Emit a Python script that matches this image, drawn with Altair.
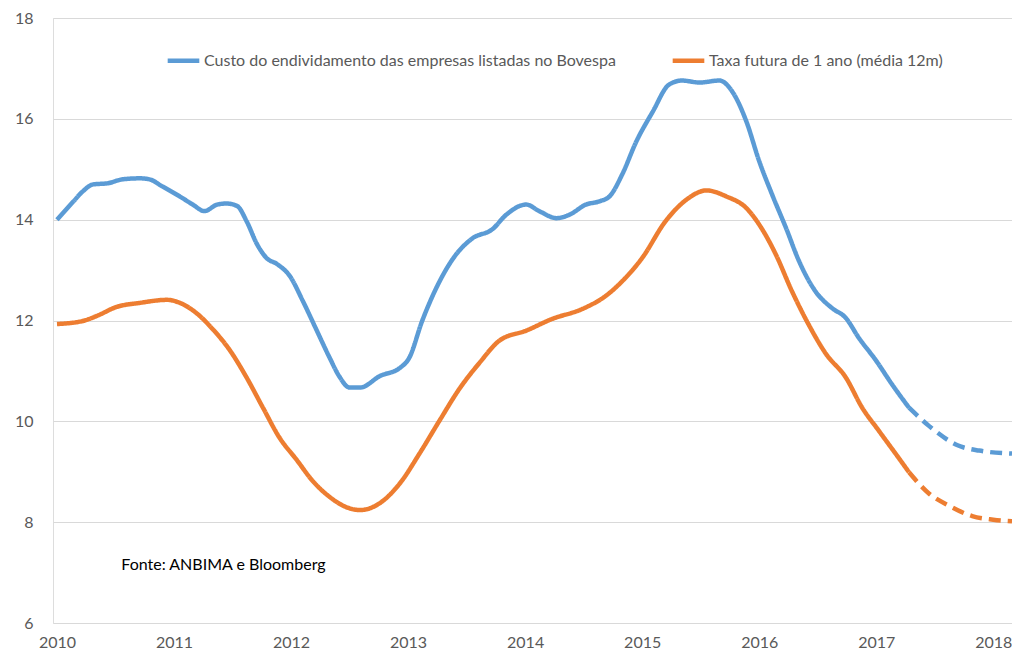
import altair as alt
import pandas as pd

SERIES_A = "Custo do endividamento das empresas listadas no Bovespa"
SERIES_B = "Taxa futura de 1 ano (média 12m)"

# Blue series (solid part) - decimal years and values
a_years = [2010.00, 2010.14, 2010.22, 2010.31, 2010.43, 2010.56, 2010.71, 2010.79, 2010.90,
           2011.05, 2011.16, 2011.26, 2011.37, 2011.45, 2011.54, 2011.62, 2011.71, 2011.79,
           2011.88, 2011.99, 2012.10, 2012.22, 2012.33, 2012.41, 2012.50, 2012.59, 2012.76,
           2012.93, 2013.01, 2013.12, 2013.24, 2013.41, 2013.55, 2013.72, 2013.84, 2014.01,
           2014.12, 2014.27, 2014.38, 2014.52, 2014.63, 2014.72, 2014.83, 2014.95, 2015.09,
           2015.23, 2015.34, 2015.49, 2015.66, 2015.77, 2015.89, 2016.00, 2016.11, 2016.23,
           2016.34, 2016.48, 2016.62, 2016.74, 2016.85, 2017.00, 2017.13, 2017.28]
a_vals = [14.00, 14.36, 14.56, 14.70, 14.72, 14.80, 14.82, 14.80, 14.66,
          14.46, 14.30, 14.17, 14.30, 14.32, 14.27, 13.97, 13.51, 13.24,
          13.12, 12.88, 12.39, 11.80, 11.26, 10.90, 10.67, 10.67, 10.90,
          11.06, 11.26, 11.99, 12.64, 13.31, 13.63, 13.81, 14.10, 14.30,
          14.17, 14.03, 14.10, 14.30, 14.36, 14.46, 14.90, 15.55, 16.14,
          16.68, 16.76, 16.72, 16.76, 16.54, 15.95, 15.16, 14.50, 13.83,
          13.18, 12.58, 12.25, 12.05, 11.66, 11.20, 10.75, 10.27]
# Blue projection (dashed)
a_proj_years = [2017.28, 2017.45, 2017.70, 2017.88, 2018.16]
a_proj_vals = [10.27, 9.91, 9.52, 9.42, 9.36]

# Orange series (solid part)
b_years = [2010.00, 2010.22, 2010.34, 2010.51, 2010.71, 2010.94, 2011.05, 2011.19, 2011.33,
           2011.48, 2011.62, 2011.76, 2011.90, 2012.05, 2012.18, 2012.33, 2012.47, 2012.59,
           2012.76, 2012.93, 2013.10, 2013.27, 2013.44, 2013.61, 2013.78, 2014.01, 2014.23,
           2014.49, 2014.69, 2014.83, 2015.00, 2015.20, 2015.38, 2015.55, 2015.72, 2015.89,
           2016.02, 2016.14, 2016.28, 2016.42, 2016.57, 2016.74, 2016.88, 2017.02, 2017.19,
           2017.28]
b_vals = [11.93, 11.99, 12.09, 12.27, 12.35, 12.41, 12.35, 12.15, 11.83,
          11.40, 10.87, 10.27, 9.68, 9.23, 8.83, 8.50, 8.30, 8.24,
          8.38, 8.77, 9.37, 10.02, 10.65, 11.16, 11.60, 11.80, 12.03,
          12.23, 12.49, 12.78, 13.24, 13.97, 14.40, 14.58, 14.46, 14.23,
          13.83, 13.32, 12.58, 11.93, 11.34, 10.87, 10.27, 9.82, 9.28,
          8.99]
b_proj_years = [2017.28, 2017.45, 2017.62, 2017.82, 2018.00, 2018.16]
b_proj_vals = [8.99, 8.57, 8.33, 8.12, 8.05, 8.02]

y_ticks = [6, 8, 10, 12, 14, 16, 18]
x_ticks = [2010, 2011, 2012, 2013, 2014, 2015, 2016, 2017, 2018]

rows = []
for yr, v in zip(a_years, a_vals):
    rows.append({"ano": yr, "valor": v, "serie": SERIES_A, "parte": "hist", "grp": "A-hist"})
for yr, v in zip(a_proj_years, a_proj_vals):
    rows.append({"ano": yr, "valor": v, "serie": SERIES_A, "parte": "proj", "grp": "A-proj"})
for yr, v in zip(b_years, b_vals):
    rows.append({"ano": yr, "valor": v, "serie": SERIES_B, "parte": "hist", "grp": "B-hist"})
for yr, v in zip(b_proj_years, b_proj_vals):
    rows.append({"ano": yr, "valor": v, "serie": SERIES_B, "parte": "proj", "grp": "B-proj"})
df = pd.DataFrame(rows)

FONT = "Lato"
GREY = "#595959"

x_enc = alt.X("ano:Q",
              scale=alt.Scale(domain=[2009.966, 2018.16], nice=False, zero=False),
              axis=alt.Axis(values=x_ticks, format="d", grid=False, domain=False, ticks=False,
                            labelFontSize=16, labelColor=GREY, labelFont=FONT,
                            labelPadding=11, title=None, labelFlush=False))
y_enc = alt.Y("valor:Q",
              scale=alt.Scale(domain=[6, 18], nice=False, zero=False),
              axis=alt.Axis(values=y_ticks, grid=True, gridColor="#D9D9D9", gridWidth=1,
                            domain=False, ticks=False, labelFontSize=16, labelColor=GREY,
                            labelFont=FONT, labelPadding=20, title=None))

lines = alt.Chart(df).mark_line(strokeWidth=4.5, interpolate="monotone", clip=True).encode(
    x=x_enc,
    y=y_enc,
    color=alt.Color("serie:N",
                    scale=alt.Scale(domain=[SERIES_A, SERIES_B], range=["#5B9BD5", "#ED7D31"]),
                    legend=alt.Legend(orient="none", legendX=112, legendY=24, direction="horizontal",
                                      title=None, symbolType="stroke", symbolStrokeWidth=4.5,
                                      symbolSize=1000, labelFontSize=16, labelColor=GREY,
                                      labelFont=FONT, columnPadding=47, labelOffset=2,
                                      labelLimit=700, symbolOffset=0)),
    strokeDash=alt.StrokeDash("parte:N",
                              scale=alt.Scale(domain=["hist", "proj"], range=[[1, 0], [12, 7]]),
                              legend=None),
    detail="grp:N",
)

note_df = pd.DataFrame({"ano": [2010.55], "valor": [7.15], "txt": ["Fonte: ANBIMA e Bloomberg"]})
note = alt.Chart(note_df).mark_text(align="left", baseline="middle", fontSize=16,
                                    font=FONT, color="#000000").encode(
    x="ano:Q", y="valor:Q", text="txt:N")

chart = alt.layer(lines, note).properties(
    width=959, height=605,
    autosize=alt.AutoSizeParams(type="none"),
    padding={"left": 45, "top": 10, "right": 0, "bottom": 30},
).configure_view(stroke=None).configure(font=FONT)

chart.save("out.html", embed_options={"renderer": "svg", "actions": False})
